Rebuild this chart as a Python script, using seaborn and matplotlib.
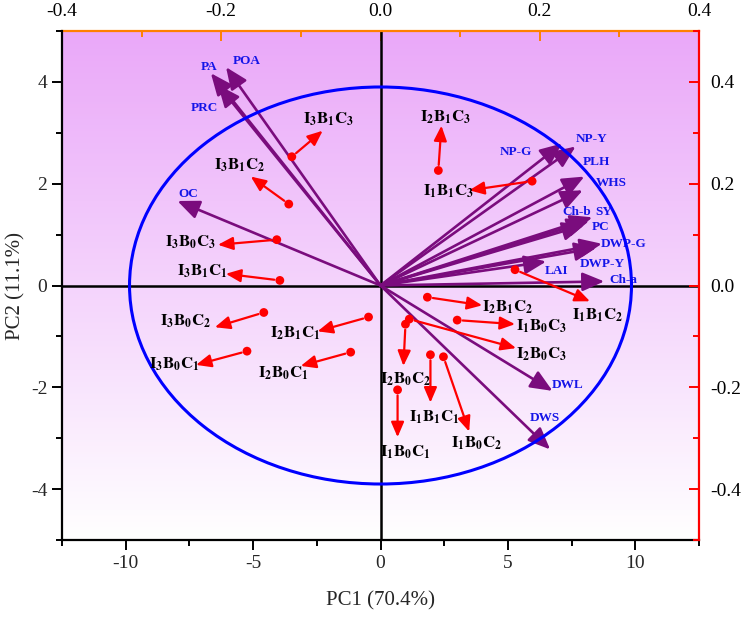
import re
import numpy as np
import matplotlib
matplotlib.use("Agg")
import matplotlib.pyplot as plt
from matplotlib.patches import Ellipse
from matplotlib.ticker import MultipleLocator, FormatStrFormatter
import seaborn as sns

# treatment scores (PC1, PC2), where each red arrow ends, and where its label sits
treatments = ["I1B0C1", "I1B0C2", "I1B0C3", "I1B1C1", "I1B1C2", "I1B1C3",
              "I2B0C1", "I2B0C2", "I2B0C3", "I2B1C1", "I2B1C2", "I2B1C3",
              "I3B0C1", "I3B0C2", "I3B0C3", "I3B1C1", "I3B1C2", "I3B1C3"]
pc1 = [0.67, 2.47, 3.01, 1.96, 5.28, 5.95,
       -1.17, 0.98, 1.13, -0.47, 1.84, 2.27,
       -5.24, -4.58, -4.07, -3.95, -3.60, -3.48]
pc2 = [-2.05, -1.40, -0.68, -1.36, 0.31, 2.05,
       -1.31, -0.76, -0.66, -0.62, -0.23, 2.26,
       -1.29, -0.53, 0.90, 0.10, 1.60, 2.53]
end1 = [0.67, 3.48, 5.28, 1.96, 8.22, 3.48,
        -3.13, 0.90, 5.32, -2.47, 3.99, 2.39,
        -7.24, -6.50, -6.38, -6.07, -5.09, -2.27]
end2 = [-2.98, -2.87, -0.76, -2.30, -0.31, 1.87,
        -1.58, -1.58, -1.23, -0.90, -0.39, 3.14,
        -1.56, -0.82, 0.80, 0.23, 2.14, 3.04]
tlab1 = [0.98, 3.76, 6.30, 2.11, 8.53, 2.66,
         -3.80, 0.98, 6.30, -3.33, 4.97, 2.54,
         -8.10, -7.63, -7.44, -7.00, -5.52, -2.04]
tlab2 = [-3.27, -3.10, -0.80, -2.59, -0.58, 1.85,
         -1.72, -1.85, -1.35, -0.94, -0.43, 3.31,
         -1.54, -0.70, 0.84, 0.27, 2.36, 3.26]

# variable loadings and label anchors (loading units)
variables = ["PA", "POA", "PRC", "OC", "NP-G", "NP-Y", "PLH", "WHS", "Ch-b",
             "SY", "PC", "DWP-G", "DWP-Y", "LAI", "Ch-a", "DWL", "DWS"]
load1 = [-0.213, -0.194, -0.204, -0.255, 0.228, 0.245, 0.256, 0.254, 0.262,
         0.266, 0.256, 0.278, 0.271, 0.208, 0.281, 0.216, 0.213]
load2 = [0.417, 0.429, 0.394, 0.166, 0.279, 0.273, 0.214, 0.187, 0.127,
         0.134, 0.119, 0.082, 0.074, 0.047, 0.008, -0.207, -0.322]
vlab1 = [-0.215, -0.168, -0.221, -0.241, 0.170, 0.265, 0.271, 0.290, 0.246,
         0.281, 0.276, 0.305, 0.279, 0.221, 0.305, 0.235, 0.207]
vlab2 = [0.429, 0.441, 0.349, 0.179, 0.263, 0.288, 0.242, 0.201, 0.144,
         0.144, 0.115, 0.082, 0.043, 0.029, 0.010, -0.195, -0.261]


def sub_label(name):
    return "$\\mathbf{" + re.sub(r"([A-Z])(\d)", r"\1_{\2}", name) + "}$"


sns.set_theme(style="ticks")
plt.rcParams["font.family"] = ["Liberation Serif", "DejaVu Serif"]
plt.rcParams["mathtext.fontset"] = "stix"
plt.rcParams["axes.unicode_minus"] = False

fig, ax = plt.subplots(figsize=(7.44, 6.29), dpi=100)
fig.subplots_adjust(left=62/744, right=699/744, bottom=1-540/629, top=1-31/629)
ax2 = ax.twinx()
ax3 = ax2.twiny()

ax3.set_zorder(1)
ax.set_zorder(2)
ax2.set_zorder(3)
ax.patch.set_visible(False)

# background gradient
top_col = np.array([234, 168, 249]) / 255.0
t = np.linspace(0, 1, 256)[:, None]
grad = top_col[None, :] * (1 - t) + np.ones(3)[None, :] * t
ax3.imshow(grad[:, None, :], extent=[0, 1, 0, 1], transform=ax3.transAxes,
           aspect="auto", zorder=0, interpolation="bilinear")

# loadings
ax3.set_xlim(-0.4, 0.4)
ax2.set_ylim(-0.5, 0.5)
ax3.axhline(0, color="black", lw=1.8, zorder=1)
ax3.axvline(0, color="black", lw=1.8, zorder=1)
for lx, ly, name, tx, ty in zip(load1, load2, variables, vlab1, vlab2):
    ax3.annotate("", xy=(lx, ly), xytext=(0, 0),
                 arrowprops=dict(arrowstyle="-|>,head_length=0.7,head_width=0.3",
                                 color="#7A0C7D", lw=1.9, mutation_scale=19,
                                 shrinkA=0, shrinkB=0), zorder=2)
    ax3.text(tx, ty, name, color="#1515E8", fontsize=9.5, fontweight="bold",
             ha="center", va="center", zorder=3)

# scores
ax.set_xlim(-12.5, 12.5)
ax.set_ylim(-5, 5)
ax.add_patch(Ellipse((0, 0), width=2*9.85, height=2*3.9, fill=False,
                     edgecolor="#0000FF", lw=2.2, zorder=2))
sns.scatterplot(x=pc1, y=pc2, ax=ax, color="red", s=40, edgecolor="none",
                zorder=5, legend=False)
for x0, y0, x1, y1, name, tx, ty in zip(pc1, pc2, end1, end2, treatments, tlab1, tlab2):
    ax.annotate("", xy=(x1, y1), xytext=(x0, y0),
                arrowprops=dict(arrowstyle="-|>,head_length=0.7,head_width=0.3",
                                color="red", lw=1.6, mutation_scale=13,
                                shrinkA=4, shrinkB=0), zorder=4)
    ax.text(tx, ty, sub_label(name), fontsize=12, color="black",
            ha="center", va="center", zorder=6)

# spines and ticks
ax.spines["top"].set_visible(False)
ax.spines["right"].set_visible(False)
for s in ["left", "bottom"]:
    ax.spines[s].set_color("black")
    ax.spines[s].set_linewidth(1.6)
for s in ["left", "bottom", "top"]:
    ax2.spines[s].set_visible(False)
ax2.spines["right"].set_color("red")
ax2.spines["right"].set_linewidth(1.6)
for s in ["left", "bottom", "right"]:
    ax3.spines[s].set_visible(False)
ax3.spines["top"].set_color("#FF8000")
ax3.spines["top"].set_linewidth(1.6)

ax.xaxis.set_major_locator(MultipleLocator(5))
ax.xaxis.set_minor_locator(MultipleLocator(2.5))
ax.yaxis.set_major_locator(MultipleLocator(2))
ax.yaxis.set_minor_locator(MultipleLocator(1))
ax.tick_params(which="major", direction="out", length=7, width=1.4, color="black",
               labelsize=14, top=False, right=False)
ax.tick_params(which="minor", direction="out", length=4, width=1.4, color="black",
               top=False, right=False)

ax2.yaxis.set_major_locator(MultipleLocator(0.2))
ax2.yaxis.set_minor_locator(MultipleLocator(0.1))
ax2.tick_params(axis="y", which="major", direction="in", length=7, width=1.4,
                color="red", labelsize=14, labelcolor="black", pad=8)
ax2.tick_params(axis="y", which="minor", direction="in", length=4, width=1.4, color="red")
ax2.yaxis.set_major_formatter(FormatStrFormatter("%.1f"))

ax3.xaxis.set_major_locator(MultipleLocator(0.2))
ax3.xaxis.set_minor_locator(MultipleLocator(0.1))
ax3.tick_params(axis="x", which="major", direction="in", length=7, width=1.4,
                color="#FF8000", labelsize=14, labelcolor="black", pad=8)
ax3.tick_params(axis="x", which="minor", direction="in", length=4, width=1.4,
                color="#FF8000")
ax3.xaxis.set_major_formatter(FormatStrFormatter("%.1f"))

ax.set_xlabel("PC1 (70.4%)", fontsize=15, labelpad=14)
ax.set_ylabel("PC2 (11.1%)", fontsize=15, labelpad=4)

fig.savefig("out.png", dpi=100)
